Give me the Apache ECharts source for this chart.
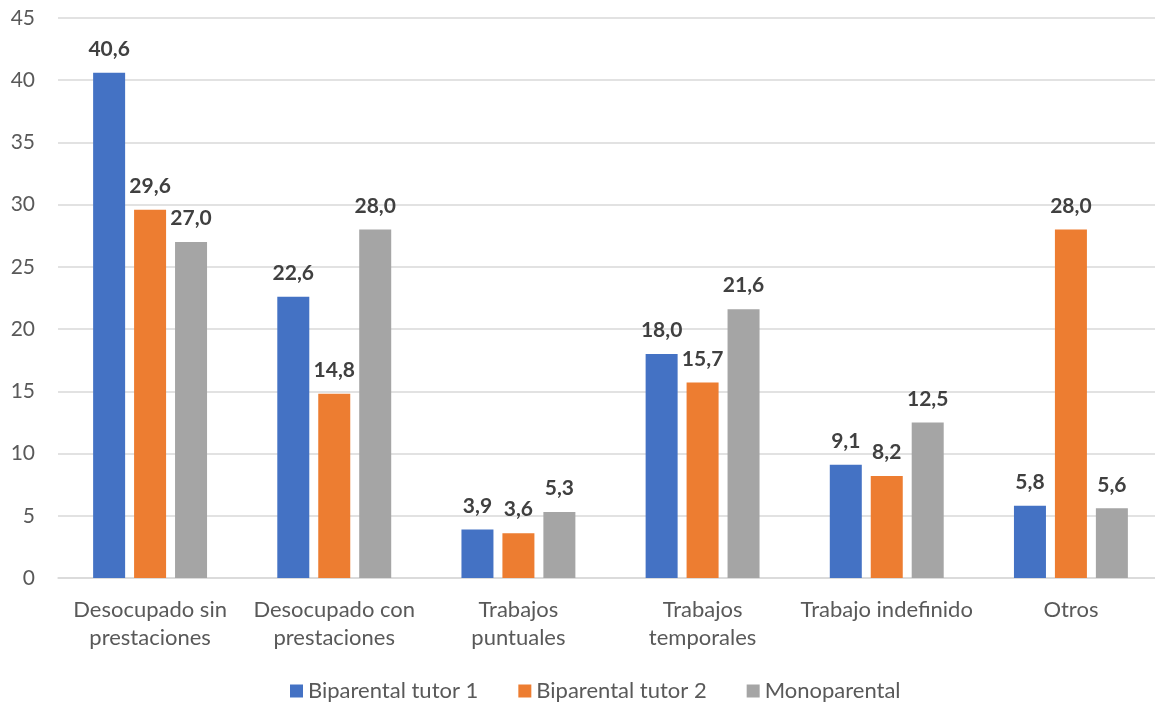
<!DOCTYPE html>
<html>
<head>
<meta charset="utf-8">
<script src="https://cdn.jsdelivr.net/npm/echarts@6/dist/echarts.min.js"></script>
<style>
html,body{margin:0;padding:0;background:#fff;overflow:hidden;}
#c{width:1163px;height:705px;}
</style>
</head>
<body>
<div id="c"></div>
<script>
const categories = ["Desocupado sin\nprestaciones", "Desocupado con\nprestaciones", "Trabajos\npuntuales", "Trabajos\ntemporales", "Trabajo indefinido", "Otros"];
const seriesNames = ["Biparental tutor 1", "Biparental tutor 2", "Monoparental"];
const tutor1 = [40.6, 22.6, 3.9, 18.0, 9.1, 5.8];
const tutor2 = [29.6, 14.8, 3.6, 15.7, 8.2, 28.0];
const mono = [27.0, 28.0, 5.3, 21.6, 12.5, 5.6];
const colors = ["#4472C4", "#ED7D31", "#A5A5A5"];

const font = "Lato, 'Noto Sans', sans-serif";
const chart = echarts.init(document.getElementById('c'), null, {renderer: 'canvas'});
const mk = (name, data, color) => ({
  name, type: 'bar', data, barWidth: 32, barGap: '28%',
  itemStyle: {color},
  label: {
    show: true, position: 'top', distance: 13,
    formatter: p => p.value.toFixed(1).replace('.', ','),
    fontFamily: font, fontSize: 21, fontWeight: 'bold', color: '#404040'
  }
});
chart.setOption({
  animation: false,
  textStyle: {fontFamily: font},
  grid: {left: 58, right: 0, top: 18, bottom: 127, containLabel: false},
  legend: {
    data: seriesNames, bottom: -2, left: 285,
    itemWidth: 13, itemHeight: 13, itemGap: 40, icon: 'rect',
    textStyle: {fontFamily: font, fontSize: 22, color: '#595959'}
  },
  xAxis: {
    type: 'category', data: categories,
    axisLine: {lineStyle: {color: '#D9D9D9', width: 1.5}},
    axisTick: {show: false},
    axisLabel: {fontFamily: font, fontSize: 22, color: '#595959', margin: 18, lineHeight: 28, interval: 0}
  },
  yAxis: {
    type: 'value', min: 0, max: 45, interval: 5,
    axisLine: {show: false}, axisTick: {show: false},
    splitLine: {lineStyle: {color: '#D9D9D9', width: 1.5}},
    axisLabel: {fontFamily: font, fontSize: 21, color: '#595959', margin: 23}
  },
  series: [mk(seriesNames[0], tutor1, colors[0]), mk(seriesNames[1], tutor2, colors[1]), mk(seriesNames[2], mono, colors[2])]
});
</script>
</body>
</html>
